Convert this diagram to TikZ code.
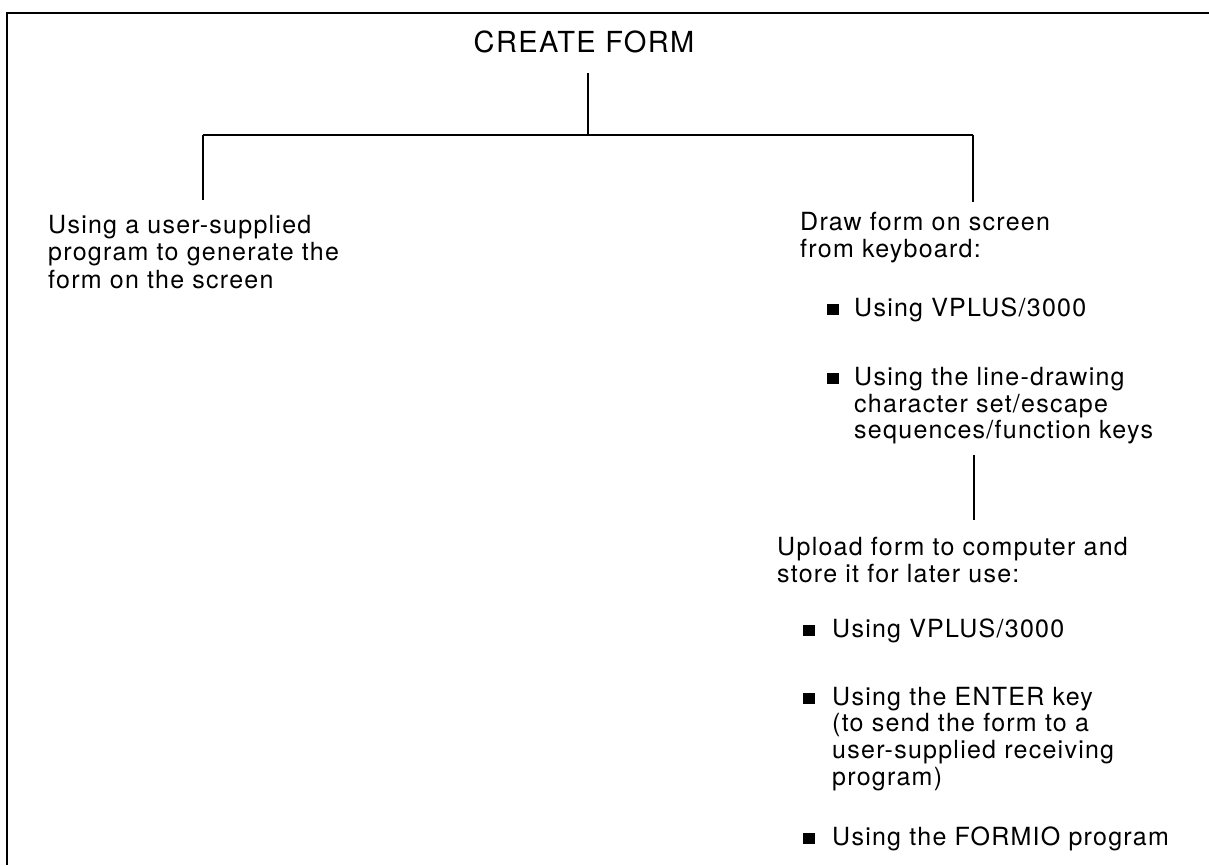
\documentclass[tikz,border=0pt]{standalone}
\usepackage{fontspec}
\setmainfont{TeX Gyre Heros}[LetterSpace=5]
\begin{document}
\begin{tikzpicture}[x=1pt,y=-1pt,
  txt/.style={anchor=base west, inner sep=0pt, font=\fontsize{25}{27}\selectfont},
  ttl/.style={anchor=base, inner sep=0pt, font=\fontsize{29}{32}\selectfont},
  conn/.style={line width=2pt},
  frame/.style={line width=2pt},
  bul/.style={fill=black, minimum width=12pt, minimum height=11pt, inner sep=0pt, anchor=south west}]
\useasboundingbox (0,0) rectangle (1209,865);
% frame (left and top edges only)
\draw[frame] (7,865) -- (7,13) -- (1209,13);
% title
\node[ttl] (title) at (584,52) {CREATE FORM};
% tree junctions
\coordinate (t0) at (588,73);
\coordinate (j) at (588,135);
\coordinate (jl) at (203,135);
\coordinate (jr) at (973,135);
\coordinate (lend) at (203,200);
\coordinate (rend) at (973,202);
\coordinate (u0) at (974,455);
\coordinate (u1) at (974,520);
\draw[conn] (t0) -- (j);
\draw[conn] (jl) -- (jr);
\draw[conn] (jl) -- (lend);
\draw[conn] (jr) -- (rend);
\draw[conn] (u0) -- (u1);
% left branch
\node[txt] (l1) at (48,233) {Using a user-supplied};
\node[txt] (l2) at (48,260) {program to generate the};
\node[txt] (l3) at (48,288) {form on the screen};
% right branch
\node[txt] (r1) at (800,230) {Draw form on screen};
\node[txt] (r2) at (800,257) {from keyboard:};
\node[bul] (b1) at (827,315) {};
\node[txt] (r3) at (854,316) {Using VPLUS/3000};
\node[bul] (b2) at (827,384) {};
\node[txt] (r4) at (854,385) {Using the line-drawing};
\node[txt] (r5) at (854,412) {character set/escape};
\node[txt] (r6) at (854,438) {sequences/function keys};
% upload
\node[txt] (u1t) at (777,555) {Upload form to computer and};
\node[txt] (u2t) at (777,582) {store it for later use:};
\node[bul] (b3) at (803,636) {};
\node[txt] (u3) at (832,637) {Using VPLUS/3000};
\node[bul] (b4) at (803,704) {};
\node[txt] (u4) at (832,705) {Using the ENTER key};
\node[txt] (u5) at (832,731) {(to send the form to a};
\node[txt] (u6) at (832,758) {user-supplied receiving};
\node[txt] (u7) at (832,785) {program)};
\node[bul] (b5) at (803,844) {};
\node[txt] (u8) at (832,845) {Using the FORMIO program};
\end{tikzpicture}
\end{document}
